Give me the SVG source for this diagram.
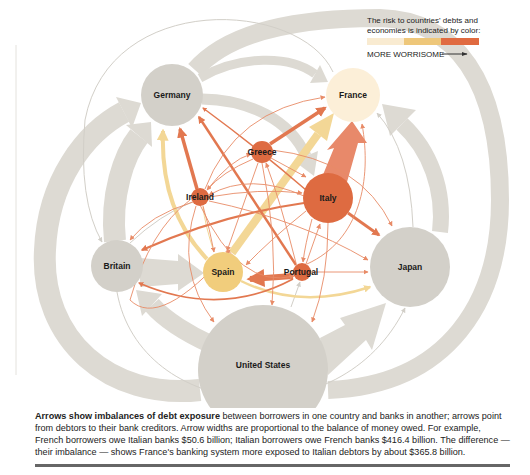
<svg xmlns="http://www.w3.org/2000/svg" width="530" height="475" viewBox="0 0 530 475">
<defs>
<style>
.gb{fill:none;stroke:#dddad3}
.gh{fill:#dddad3}
.gt{fill:none;stroke:#d2cfc8;stroke-width:1}
.o{fill:none;stroke:#e27850}
.ot{fill:none;stroke:#e88b67;stroke-width:0.9}
.y{fill:none;stroke:#f3d796}
.ng{fill:#d3d0c9}
.no{fill:#de6b41}
.lbl{font-family:"Liberation Sans",Arial,sans-serif;font-size:8.5px;font-weight:bold;fill:#1a1a1a;text-anchor:middle}
.cap{font-family:"Liberation Sans",Arial,sans-serif;font-size:9.1px;fill:#222}
.leg{font-family:"Liberation Sans",Arial,sans-serif;font-size:8px;fill:#222}
</style>
<marker id="mo" viewBox="0 0 10 10" refX="8" refY="5" markerWidth="3" markerHeight="3" orient="auto"><path d="M0,0L10,5L0,10z" fill="#e27850"/></marker>
<marker id="mot" viewBox="0 0 10 10" refX="9" refY="5" markerWidth="5" markerHeight="5" markerUnits="userSpaceOnUse" orient="auto"><path d="M0,0L10,5L0,10z" fill="#e88b67"/></marker>
<marker id="mg" viewBox="0 0 10 10" refX="9" refY="5" markerWidth="5" markerHeight="5" markerUnits="userSpaceOnUse" orient="auto"><path d="M0,0L10,5L0,10z" fill="#d2cfc8"/></marker>
<marker id="my" viewBox="0 0 10 10" refX="8" refY="5" markerWidth="3" markerHeight="3" orient="auto"><path d="M0,0L10,5L0,10z" fill="#f3d796"/></marker>
<marker id="mk" viewBox="0 0 10 10" refX="9" refY="5" markerWidth="6" markerHeight="6" markerUnits="userSpaceOnUse" orient="auto"><path d="M0,1.5L10,5L0,8.5z" fill="#333"/></marker>
</defs>
<rect width="530" height="475" fill="#fff"/>
<line x1="16" y1="45" x2="16" y2="375" stroke="#e4e2dd" stroke-width="1"/>
<g id="connectors">
<!-- grey bands -->
<path class="gb" stroke-width="18" d="M195 70 C230 30 300 18 380 18 C455 20 500 80 500 200 C500 300 450 385 328 390"/>
<path class="gb" stroke-width="22" d="M200 390 C110 400 40 340 45 250 C48 180 86 132 124 112"/>
<polygon class="gh" points="132,128 141,103 116,97"/>
<path class="gb" stroke-width="22" d="M115 241 C110 195 124 155 139 136"/>
<polygon class="gh" points="152,147 151,122 126,125"/>
<path class="gb" stroke-width="18" d="M212 345 C190 335 165 320 152 305"/>
<polygon class="gh" points="162,294 136,290 142,316"/>
<polygon class="gh" points="140,258 178,261 178,254 204,273 178,291 178,284 140,287"/>
<path class="gb" stroke-width="9" d="M200 78 C240 55 290 55 315 74"/>
<polygon class="gh" points="310,83 328,82 320,65"/>
<path class="gb" stroke-width="11" d="M202 99 C250 100 290 120 306 156"/>
<polygon class="gh" points="318,151 314,176 294,161"/>
<path class="gb" stroke-width="16" d="M440 232 C445 190 430 150 402 124"/>
<polygon class="gh" points="416,110 382,104 390,136"/>
<polygon class="gh" points="320,338 345,325 340,318 386,303 372,350 366,340 328,375"/>
<!-- thin grey -->
<path class="gt" marker-end="url(#mg)" d="M333 72 C300 0 110 -10 85 120 Q78 200 102 242"/>
<path class="gt" marker-end="url(#mg)" d="M413 227 Q410 150 377 113"/>
<path class="gt" marker-end="url(#mg)" d="M117 292 C140 420 340 440 405 308"/>
<path class="gt" d="M130 243 Q160 215 192 202"/>
<path class="gt" marker-end="url(#mg)" d="M291 307 L300 282"/>
<!-- yellow -->
<path class="y" stroke-width="4" marker-end="url(#my)" d="M207 259 Q160 210 163 131"/>
<path class="y" stroke-width="2.5" marker-end="url(#my)" d="M241 281 Q300 310 370 287"/>
<path class="y" stroke-width="1" d="M214 252 Q205 225 203 207"/>
<path class="y" stroke-width="8" d="M232 253 L318 134"/>
<polygon fill="#f3d796" points="309,127 334,113 327,141"/>
<!-- salmon -->
<polygon fill="#e8896a" points="320,182 334,148 327,150 352,121 367,143 358,143 347,182"/>
<!-- orange thick -->
<path class="o" stroke-width="3.5" marker-end="url(#mo)" d="M197 189 L180 129"/>
<path class="o" stroke-width="2.5" marker-end="url(#mo)" d="M296 265 L199 117"/>
<path class="o" stroke-width="1.5" marker-end="url(#mo)" d="M306 190 Q260 150 203 108"/>
<path class="o" stroke-width="3.5" marker-end="url(#mo)" d="M270 144 L325 108"/>
<path class="o" stroke-width="2.8" marker-end="url(#mo)" d="M348 213 L379 235"/>
<path class="o" stroke-width="2.2" marker-end="url(#mo)" d="M304 203 Q220 215 142 250"/>
<path class="o" stroke-width="1.8" marker-end="url(#mo)" d="M293 279 Q220 318 139 283"/>
<path class="o" stroke-width="6" marker-end="url(#mo)" d="M293 276 L250 279"/>
<!-- orange thin -->
<path class="ot" marker-end="url(#mot)" d="M205 189 Q235 110 325 97"/>
<path class="ot" marker-end="url(#mot)" d="M307 264 C360 240 372 180 362 124"/>
<path class="ot" marker-end="url(#mot)" d="M193 202 Q150 215 130 240"/>
<path class="ot" marker-end="url(#mot)" d="M258 163 L227 251"/>
<path class="ot" marker-end="url(#mot)" d="M306 211 Q270 240 246 265"/>
<path class="ot" marker-end="url(#mot)" d="M203 206 Q210 230 214 252"/>
<path class="ot" marker-end="url(#mot)" d="M209 197 Q260 188 302 193"/>
<path class="ot" marker-end="url(#mot)" d="M271 158 L306 177"/>
<path class="ot" marker-end="url(#mot)" d="M306 264 L320 224"/>
<path class="ot" marker-end="url(#mot)" d="M311 272 L368 272"/>
<path class="ot" marker-end="url(#mot)" d="M209 201 Q300 220 368 260"/>
<path class="ot" marker-end="url(#mot)" d="M272 150 Q360 160 392 226"/>
<path class="ot" marker-end="url(#mot)" d="M196 206 Q175 270 214 322"/>
<path class="ot" marker-end="url(#mot)" d="M262 163 Q278 240 272 305"/>
<path class="ot" marker-end="url(#mot)" d="M328 223 Q328 280 312 322"/>
<path class="ot" marker-end="url(#mot)" d="M207 190 Q230 160 251 154"/>
<path class="ot" marker-end="url(#mot)" d="M253 159 Q222 172 207 190"/>
<path class="ot" marker-end="url(#mot)" d="M304 196 Q250 172 209 195"/>
<path class="ot" marker-end="url(#mot)" d="M312 219 Q305 245 303 262"/>
<path class="ot" marker-end="url(#mot)" d="M296 263 Q280 200 266 163"/>
<path class="ot" marker-end="url(#mot)" d="M200 205 Q240 290 294 276"/>
<path class="ot" marker-end="url(#mot)" d="M190 200 Q150 230 130 300 Q160 330 230 250"/>
</g>
<g id="node-germany"><circle class="ng" cx="172" cy="95" r="31"/><text class="lbl" x="172" y="98">Germany</text></g>
<g id="node-france"><circle fill="#fcefd8" cx="353" cy="95" r="27"/><text class="lbl" x="353" y="98">France</text></g>
<g id="node-greece"><circle class="no" cx="262" cy="152" r="11"/><text class="lbl" x="262" y="155">Greece</text></g>
<g id="node-ireland"><circle class="no" cx="200" cy="197" r="9"/><text class="lbl" x="200" y="200">Ireland</text></g>
<g id="node-italy"><circle class="no" cx="328" cy="198" r="25"/><text class="lbl" x="328" y="201">Italy</text></g>
<g id="node-britain"><circle class="ng" cx="117" cy="266" r="26"/><text class="lbl" x="117" y="269">Britain</text></g>
<g id="node-spain"><circle fill="#f1cd7c" cx="223" cy="272" r="20"/><text class="lbl" x="223" y="275">Spain</text></g>
<g id="node-portugal"><circle class="no" cx="302" cy="272" r="9"/><text class="lbl" x="301" y="275">Portugal</text></g>
<g id="node-japan"><circle class="ng" cx="410" cy="267" r="40"/><text class="lbl" x="410" y="270">Japan</text></g>
<g id="node-us"><circle class="ng" cx="263" cy="370" r="65"/><text class="lbl" x="263" y="368">United States</text></g>
<g id="legend">
<text class="leg" x="367" y="23">The risk to countries' debts and</text>
<text class="leg" x="367" y="33">economies is indicated by color:</text>
<rect x="367" y="38" width="37" height="7" fill="#f9ebd1"/>
<rect x="404" y="38" width="37" height="7" fill="#eec77a"/>
<rect x="441" y="38" width="38" height="7" fill="#e06a40"/>
<text class="leg" x="367" y="57" font-size="7px" fill="#333">MORE WORRISOME</text>
<line x1="442" y1="54" x2="467" y2="54" stroke="#333" stroke-width="1" marker-end="url(#mk)"/>
</g>
<rect x="0" y="408" width="530" height="67" fill="#fff"/>
<g id="caption">
<text class="cap" x="35" y="419"><tspan font-weight="bold">Arrows show imbalances of debt exposure</tspan> between borrowers in one country and banks in another; arrows point</text>
<text class="cap" x="35" y="431">from debtors to their bank creditors. Arrow widths are proportional to the balance of money owed. For example,</text>
<text class="cap" x="35" y="443">French borrowers owe Italian banks $50.6 billion; Italian borrowers owe French banks $416.4 billion. The difference —</text>
<text class="cap" x="35" y="455">their imbalance — shows France's banking system more exposed to Italian debtors by about $365.8 billion.</text>
</g>
<rect x="35" y="464" width="475" height="3" fill="#666"/>
</svg>
